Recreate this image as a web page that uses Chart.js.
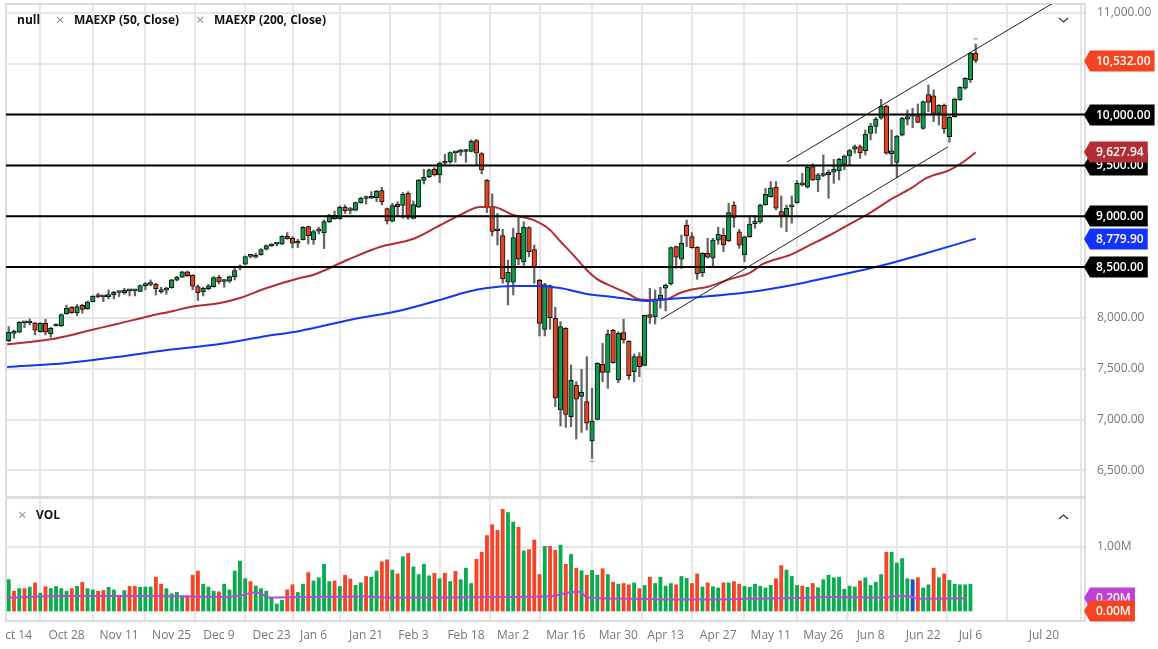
<!DOCTYPE html>
<html>
<head>
<meta charset="utf-8">
<title>Chart</title>
<script src="https://cdn.jsdelivr.net/npm/chart.js@4/dist/chart.umd.min.js"></script>
<style>
  html, body { margin: 0; padding: 0; background: #fff; overflow: hidden; }
  #wrap { position: relative; width: 1158px; height: 649px; font-family: "Open Sans", sans-serif; }
  canvas { position: absolute; left: 0; }
  .lg { position: absolute; font-size: 12px; font-weight: 700; color: #111; line-height: 16px; white-space: nowrap; }
  .x { position: absolute; font-size: 15px; color: #8a8a8a; line-height: 16px; }
  svg { position: absolute; }
</style>
</head>
<body>
<div id="wrap">
  <canvas id="priceChart" width="1158" height="497" style="top:0"></canvas>
  <canvas id="volChart" width="1158" height="152" style="top:497px"></canvas>
  <div class="lg" style="left:17px;top:12px">null</div>
  <div class="x" style="left:56px;top:11px">×</div>
  <div class="lg" style="left:74px;top:12px">MAEXP (50, Close)</div>
  <div class="x" style="left:196px;top:11px">×</div>
  <div class="lg" style="left:214px;top:12px">MAEXP (200, Close)</div>
  <div class="x" style="left:18px;top:506px">×</div>
  <div class="lg" style="left:36px;top:507px">VOL</div>
  <svg style="left:1058px;top:17px" width="11" height="7"><polyline points="1,1 5.5,5 10,1" fill="none" stroke="#333" stroke-width="1.2"/></svg>
  <svg style="left:1058px;top:513px" width="11" height="7"><polyline points="1,6 5.5,2 10,6" fill="none" stroke="#333" stroke-width="1.2"/></svg>
</div>
<script>
// daily candles, oldest first
var opens = [
  7777,7849,7859,7952,7950,7951,7866,7948,7843,7921,
  7925,8043,8105,8053,8125,8092,8161,8223,8208,8210,
  8226,8250,8249,8267,8267,8262,8318,8329,8331,8259,
  8274,8299,8371,8400,8453,8420,8308,8256,8289,8308,
  8400,8359,8361,8407,8493,8528,8605,8597,8623,8676,
  8708,8726,8728,8803,8784,8735,8770,8898,8767,8854,
  8839,8947,8977,8977,9088,9057,9059,9134,9175,9177,
  9183,9252,9075,8951,9118,9108,9226,8980,9092,9354,
  9390,9465,9406,9522,9534,9624,9631,9637,9639,9744,
  9616,9354,9088,8866,8810,8351,8351,8833,8554,8888,
  8672,8370,7888,8318,7997,7095,7898,7029,7337,7229,
  7177,6793,7003,7544,7465,7879,7390,7856,7770,7472,
  7619,7534,8033,8013,8190,8292,8334,8702,8577,8911,
  8800,8695,8446,8636,8587,8764,8816,8757,9111,8846,
  8620,8800,8928,8944,9115,9193,9285,9046,9007,9093,
  9134,9309,9289,9488,9357,9401,9410,9433,9449,9511,
  9593,9659,9685,9646,9816,9885,9964,10085,9616,9531,
  9797,9954,9985,9987,9865,10197,10184,10013,10092,9784,
  9980,10144,10259,10344,10603
];
var highs = [
  7915,7882,7964,7958,7990,7957,7954,7987,7908,7941,
  8040,8125,8112,8131,8135,8167,8220,8243,8220,8276,
  8262,8259,8292,8282,8282,8325,8348,8374,8341,8302,
  8302,8380,8410,8459,8462,8426,8325,8302,8331,8407,
  8420,8377,8413,8492,8521,8610,8623,8636,8682,8718,
  8731,8741,8810,8840,8800,8774,8898,8905,8865,8892,
  8964,9020,9052,9102,9111,9088,9141,9187,9200,9242,
  9256,9285,9082,9128,9144,9233,9242,9151,9364,9462,
  9465,9479,9534,9610,9633,9639,9659,9659,9751,9757,
  9626,9361,9220,9029,8872,8570,8882,8997,8947,8898,
  8718,8380,8341,8324,8105,7964,7905,7538,7374,7495,
  7619,7308,7561,7751,7882,7888,7865,7987,7777,7646,
  7659,8029,8292,8275,8302,8334,8698,8708,8816,8964,
  8839,8702,8643,8783,8783,8892,8882,9128,9144,8872,
  8806,9003,8990,9121,9275,9341,9341,9200,9111,9200,
  9351,9423,9495,9515,9423,9603,9456,9560,9570,9603,
  9659,9702,9702,9849,9915,9974,10151,10095,9849,9797,
  9974,10046,10062,10105,10134,10292,10243,10098,10105,9987,
  10161,10275,10364,10610,10695
];
var lows = [
  7767,7800,7856,7905,7931,7833,7859,7833,7810,7920,
  7915,8036,8046,8023,8046,8085,8157,8200,8161,8187,
  8187,8210,8233,8217,8217,8259,8276,8315,8226,8243,
  8233,8292,8364,8397,8407,8276,8171,8217,8276,8302,
  8335,8302,8348,8374,8472,8521,8590,8590,8617,8669,
  8702,8708,8721,8774,8689,8692,8767,8728,8724,8826,
  8682,8937,8970,8970,9029,9023,9052,9128,9121,9174,
  9144,9111,8924,8944,8997,8980,8970,8974,9085,9318,
  9380,9397,9331,9505,9521,9531,9597,9531,9633,9505,
  9416,9036,8806,8718,8341,8128,8226,8521,8511,8603,
  8341,7823,7823,7888,7128,6937,6924,6931,6810,6875,
  6898,6619,6996,7373,7308,7554,7364,7751,7396,7373,
  7423,7528,7947,7941,8095,8069,8324,8488,8488,8702,
  8685,8380,8406,8587,8505,8724,8652,8751,8892,8685,
  8554,8793,8882,8931,9108,9187,9062,8892,8849,8931,
  9128,9298,9275,9351,9243,9390,9177,9324,9357,9456,
  9505,9620,9570,9603,9751,9816,9954,9610,9505,9380,
  9790,9898,9872,9921,9856,10029,9931,9898,9816,9728,
  9974,10138,10249,10315,10511
];
var closes = [
  7859,7856,7957,7955,7953,7879,7948,7859,7898,7926,
  8033,8095,8053,8112,8085,8157,8213,8207,8212,8226,
  8253,8254,8272,8271,8270,8318,8331,8333,8289,8272,
  8278,8374,8403,8453,8417,8312,8249,8292,8315,8397,
  8354,8363,8407,8466,8497,8603,8609,8617,8672,8712,
  8725,8730,8803,8781,8735,8751,8892,8810,8849,8858,
  8947,9010,9010,9088,9056,9061,9134,9177,9179,9197,
  9249,9144,8954,9105,9095,9216,8990,9115,9357,9383,
  9456,9406,9524,9526,9626,9628,9635,9641,9738,9623,
  9456,9088,8852,8858,8383,8449,8790,8577,8892,8652,
  8505,7947,8328,8003,7213,7915,7052,7387,7200,7269,
  6964,6983,7554,7465,7839,7560,7849,7783,7433,7619,
  7521,8026,8006,8187,8226,8324,8692,8597,8734,8810,
  8692,8433,8636,8597,8767,8823,8718,9036,8990,8715,
  8797,8924,8954,9111,9216,9279,9079,9003,9079,9097,
  9325,9313,9482,9357,9407,9405,9433,9462,9560,9593,
  9646,9685,9626,9806,9888,9957,10085,9620,9643,9790,
  9964,9980,9989,9924,10128,10121,10013,10092,9862,9974,
  10154,10269,10357,10603,10532
];

// volume in millions, G up / R down / B highlighted
var volumes = [
  .49,.31,.35,.35,.375,.44,.28,.38,.35,.385,
  .35,.31,.35,.385,.45,.35,.33,.31,.32,.37,
  .33,.24,.32,.385,.385,.37,.375,.375,.53,.42,
  .35,.27,.29,.24,.24,.56,.625,.42,.375,.31,
  .30,.42,.33,.625,.78,.505,.46,.39,.35,.31,
  .20,.11,.17,.33,.41,.29,.42,.60,.47,.52,
  .73,.46,.47,.385,.56,.50,.40,.44,.54,.53,
  .625,.77,.80,.64,.58,.85,.90,.69,.57,.73,
  .55,.59,.505,.59,.46,.62,.49,.67,.43,.81,
  .92,1.18,1.35,1.26,1.59,1.54,1.39,1.31,.94,.96,
  1.11,.57,1.01,1.01,.95,1.03,.73,.885,.67,.63,
  .56,.635,.56,.66,.57,.45,.42,.43,.41,.44,
  .35,.40,.53,.43,.53,.39,.43,.41,.54,.51,
  .43,.58,.375,.44,.38,.36,.44,.44,.46,.42,
  .385,.37,.42,.385,.36,.40,.505,.71,.64,.54,
  .40,.39,.37,.43,.365,.49,.56,.52,.53,.34,
  .39,.375,.47,.52,.40,.45,.57,.92,.92,.75,
  .82,.505,.49,.52,.36,.41,.67,.52,.58,.48,
  .42,.41,.41,.42
];
var volSides = ("GRGRGRGRGG" + "GGRGRGGRRG" + "GRGRRGGGRR" + "GGGGRRRGGG" + "RGGGGGRGGG" +
                "GGGRRGGRGG" + "GGRGRRGGRG" + "GRRGRGRGGG" + "GRGRGRGGGR" + "RRRRRGGRGR" +
                "RRGRRGRGRG" + "RGGRGRGRRG" + "RGRGGGGRGG" + "RRGRGGRGRR" + "GGGGGGRRGG" +
                "GRGRGGGGGG" + "GGRGGGGRGG" + "GGBRGGRGRG" + "GGGG").split("");

// moving averages, read at the bends only
var ma50Bars = [-0.3,8.4,11.1,14.9,20.6,26.9,31.3,34.5,40.2,44,49.1,55.4,57.9,64.4,70.6,76.9,81.5,85.9,89.7,92.2,96,99.8,103,104.9,107.4,110,111.9,115,117.6,119.7,122,125.3,127.7,129.6,132.9,136.7,141,143.5,148.7,152.5,156.3,160.1,163.9,167.7,171.5,174.7,179.1,181.6,184];
var ma50Vals = [7741,7793,7823,7872,7941,8020,8069,8108,8148,8197,8295,8393,8423,8570,8698,8777,8895,9013,9092,9092,9013,8964,8866,8757,8620,8472,8384,8305,8246,8187,8177,8187,8246,8275,8305,8374,8443,8531,8620,8718,8816,8925,9033,9161,9269,9377,9456,9534,9628];
var ma200Bars = [-0.3,11.1,20.6,30.1,40.2,49.1,55.4,64.9,75,82,87.2,91,96,100.5,104.9,110,115,121.5,125.8,131.5,141,149.2,156.3,165.8,173.4,184];
var ma200Vals = [7518,7557,7616,7685,7744,7823,7872,7980,8079,8177,8256,8295,8315,8315,8295,8236,8207,8167,8187,8207,8256,8325,8403,8511,8620,8780];
var volMaBars = [-0.4,11,20.5,27,34,41.5,43.4,44.7,46.5,47.8,48.5,49,55.4,68,71.3,80.8,93.5,102.4,105,106.8,108.7,110,118.2,129,140.5,153.1,155.7,167,168.3,170.9,172.2,173.1,182];
var volMaVals = [.21,.235,.235,.235,.225,.22,.235,.255,.285,.28,.25,.21,.22,.225,.21,.21,.22,.225,.26,.295,.30,.21,.19,.18,.19,.21,.22,.21,.23,.235,.21,.19,.20];

// hand drawn lines on the chart
var levels = [10000, 9500, 9000, 8500];
var upperBars = [148.1, 198.5];
var upperVals = [9534, 11090];
var lowerBars = [124.1, 178.7];
var lowerVals = [7987, 9682];

// axes
var tickBars = [1,11,21,31,40,50,58,68,77,87,96,106,116,125,135,145,155,164,174,183,197];
var tickNames = ["Oct 14","Oct 28","Nov 11","Nov 25","Dec 9","Dec 23","Jan 6","Jan 21","Feb 3","Feb 18","Mar 2","Mar 16","Mar 30","Apr 13","Apr 27","May 11","May 26","Jun 8","Jun 22","Jul 6","Jul 20"];
var priceTicks = [6500,7000,7500,8000,8500,9000,9500,10000,10500,11000];
var volTicks = [1];
var xMin = -0.52, xMax = 204.8;

// right hand value tags
var priceTags = [10000, 9500, 9000, 8500, 10532, 9627.94, 8779.9];
var priceTagColors = ["#000","#000","#000","#000","#f4431f","#b52d33","#1233ff"];
var volTags = [0.2, 0];
var volTagColors = ["#c040d8","#f4431f"];

var GREEN = "#0c9c4c", RED = "#e5431f", GRID = "#e6e6e6";

function money(v) {
  return v.toLocaleString("en-US", {minimumFractionDigits: 2, maximumFractionDigits: 2});
}
function mil(v) {
  return v.toFixed(2) + "M";
}
function pairs(xs, ys) {
  return xs.map(function(x, i) { return {x: x, y: ys[i]}; });
}
function lineSet(data, color, width, order) {
  return {type: "line", data: data, borderColor: color, borderWidth: width, pointRadius: 0,
          cubicInterpolationMode: "monotone", order: order};
}
function markSet(bar, val, color) {
  return {type: "line", data: [{x: bar, y: val}], showLine: false, pointStyle: "line", pointRadius: 2,
          pointBorderColor: color, pointBorderWidth: 1, order: 0};
}

function tagPlugin(values, colors, format) {
  return {
    id: "tags",
    afterDraw: function(chart) {
      var ctx = chart.ctx, yScale = chart.scales.y;
      ctx.save();
      ctx.font = "600 12px 'Open Sans'";
      ctx.textBaseline = "middle";
      values.forEach(function(v, i) {
        var y = Math.round(yScale.getPixelForValue(v)), text = format(v);
        var right = 1096 + ctx.measureText(text).width + 4;
        ctx.fillStyle = colors[i];
        ctx.beginPath();
        ctx.moveTo(1084, y);
        ctx.lineTo(1090, y - 10.5);
        ctx.lineTo(right, y - 10.5);
        ctx.lineTo(right, y + 10.5);
        ctx.lineTo(1090, y + 10.5);
        ctx.closePath();
        ctx.fill();
        ctx.fillStyle = "#fff";
        ctx.fillText(text, 1096, y + 0.5);
      });
      ctx.restore();
    }
  };
}

var paneFrame = {
  id: "paneFrame",
  beforeDatasetsDraw: function(chart) {
    var a = chart.chartArea, ctx = chart.ctx;
    ctx.save();
    ctx.strokeStyle = "#dcdcdc";
    ctx.lineWidth = 2;
    ctx.strokeRect(a.left, a.top, a.right - a.left, a.bottom - a.top);
    ctx.restore();
  }
};

// the first date label is cut by the left edge of the plot
var cutLeft = {
  id: "cutLeft",
  afterDraw: function(chart) {
    chart.ctx.clearRect(0, chart.chartArea.bottom + 2, 6, 30);
  }
};

// tick labels must not push the plot area inwards
function noPadding(axis) {
  axis.paddingLeft = axis.paddingRight = axis.paddingTop = axis.paddingBottom = 0;
}

function xScale(showLabels) {
  return {
    type: "linear",
    min: xMin,
    max: xMax,
    offset: false,
    grid: {color: GRID, lineWidth: 2, drawTicks: false},
    border: {display: false},
    afterBuildTicks: function(axis) {
      axis.ticks = tickBars.map(function(b) { return {value: b}; });
    },
    afterFit: function(axis) {
      axis.height = showLabels ? 28 : 0;
      noPadding(axis);
    },
    ticks: {
      display: showLabels,
      autoSkip: false,
      maxRotation: 0,
      padding: 7,
      color: "#777",
      font: {family: "Open Sans", size: 12},
      callback: function(v) { return tickNames[tickBars.indexOf(v)]; }
    }
  };
}
function yScale(min, max, ticks, format) {
  return {
    position: "right",
    min: min,
    max: max,
    grid: {color: GRID, lineWidth: 2, drawTicks: false},
    border: {display: false},
    afterBuildTicks: function(axis) {
      axis.ticks = ticks.map(function(t) { return {value: t}; });
    },
    afterFit: function(axis) {
      axis.width = 73;
      noPadding(axis);
    },
    ticks: {
      padding: 12,
      color: "#777",
      font: {family: "Open Sans", size: 12},
      callback: format
    }
  };
}

var bars = closes.map(function(c, i) { return i; });

var wickData = bars.map(function(i) { return {x: i, y: [lows[i], highs[i]]}; });
var bodyData = bars.map(function(i) { return {x: i, y: [opens[i], closes[i]]}; });
var bodyColors = bars.map(function(i) { return closes[i] >= opens[i] ? GREEN : RED; });

var priceSets = [
  {type: "bar", data: wickData, backgroundColor: "#666", barThickness: 1.6, grouped: false, order: 6},
  {type: "bar", data: bodyData, backgroundColor: bodyColors, borderColor: "#111", borderWidth: 1,
   borderSkipped: false, barThickness: 4.6, minBarLength: 2, grouped: false, order: 5},
  lineSet(pairs(ma50Bars, ma50Vals), "#b52d33", 2, 4),
  lineSet(pairs(ma200Bars, ma200Vals), "#1238f0", 2, 3),
  lineSet(pairs(upperBars, upperVals), "#222", 1, 1),
  lineSet(pairs(lowerBars, lowerVals), "#222", 1, 1),
  markSet(184, 10745, "#f4431f"),
  markSet(111, 6590, "#1fb860")
];
levels.forEach(function(v) {
  priceSets.push(lineSet(pairs([xMin, xMax], [v, v]), "#000", 2, 2));
});

new Chart(document.getElementById("priceChart"), {
  type: "bar",
  data: {datasets: priceSets},
  options: {
    responsive: false,
    animation: false,
    layout: {autoPadding: false, padding: {left: 6, top: 4, right: 0, bottom: 0}},
    plugins: {legend: {display: false}, tooltip: {enabled: false}},
    scales: {x: xScale(false), y: yScale(6239, 11088, priceTicks, money)}
  },
  plugins: [paneFrame, tagPlugin(priceTags, priceTagColors, money)]
});

var volColors = volSides.map(function(s) {
  return s === "G" ? "#0bab50" : s === "R" ? "#f4452a" : "#2050c0";
});

new Chart(document.getElementById("volChart"), {
  type: "bar",
  data: {
    datasets: [
      {type: "bar", data: pairs(bars.slice(0, volumes.length), volumes), backgroundColor: volColors, barThickness: 3.2, order: 2},
      lineSet(pairs(volMaBars, volMaVals), "#b94bd0", 2, 1)
    ]
  },
  options: {
    responsive: false,
    animation: false,
    layout: {autoPadding: false, padding: {left: 6, top: 1, right: 0, bottom: 0}},
    plugins: {legend: {display: false}, tooltip: {enabled: false}},
    scales: {x: xScale(true), y: yScale(-0.156, 1.766, volTicks, mil)}
  },
  plugins: [paneFrame, cutLeft, tagPlugin(volTags, volTagColors, mil)]
});
</script>
</body>
</html>
